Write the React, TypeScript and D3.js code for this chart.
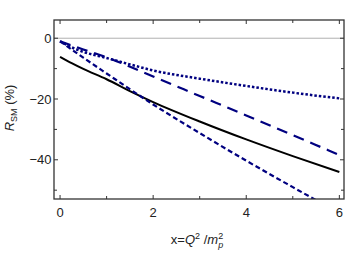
import React, { useRef, useEffect } from "react";
import * as d3 from "d3";

// values
const solidX = [0, 0.25, 0.5, 1, 1.5, 2, 3, 4, 5, 6];
const solidY = [-6.1, -8.2, -10.1, -13.5, -17.4, -21.0, -27.4, -33.3, -38.8, -44.0];

const longDashX = [0, 0.5, 1, 2, 3, 4, 5, 6];
const longDashY = [-1.0, -3.7, -6.3, -12.6, -19.0, -25.4, -31.9, -38.4];

const dottedX = [0, 0.25, 0.5, 1, 1.5, 2, 3, 4, 5, 6];
const dottedY = [-1.0, -3.0, -4.5, -6.5, -8.6, -10.6, -13.3, -15.7, -17.9, -19.8];

const shortDashX = [0, 0.5, 1, 2, 3, 4, 5, 5.7];
const shortDashY = [-1.0, -6.4, -11.6, -21.8, -31.2, -40.3, -49.0, -55.0];

const xMajorTicks = [0, 2, 4, 6];
const xMinorTicks = [1, 3, 5];
const yMajorTicks = [0, -20, -40];
const yMinorTicks = [-10, -30, -50];

const W = 349;
const H = 253;

const App: React.FC = () => {
  const svgRef = useRef<SVGSVGElement | null>(null);

  useEffect(() => {
    const svg = d3.select(svgRef.current);
    svg.selectAll("*").remove();

    const left = 54, right = 344, top = 20, bottom = 199;
    const x = d3.scaleLinear().domain([-0.13, 6.1]).range([left, right]);
    const y = d3.scaleLinear().domain([6, -52.9]).range([top, bottom]);
    const font = "'Liberation Sans', Arial, sans-serif";
    const frameColor = "#333";

    svg
      .append("defs")
      .append("clipPath")
      .attr("id", "plotClip")
      .append("rect")
      .attr("x", left)
      .attr("y", top)
      .attr("width", right - left)
      .attr("height", bottom - top);

    // zero line
    svg
      .append("line")
      .attr("x1", left)
      .attr("x2", right)
      .attr("y1", y(0))
      .attr("y2", y(0))
      .attr("stroke", "#b0b0b0")
      .attr("stroke-width", 1);

    const plot = svg.append("g").attr("clip-path", "url(#plotClip)");

    const series = [
      { xs: solidX, ys: solidY, color: "#000", dash: null, w: 2 },
      { xs: longDashX, ys: longDashY, color: "#000080", dash: "11,7", w: 2.2 },
      { xs: dottedX, ys: dottedY, color: "#000080", dash: "2.5,2", w: 2.5 },
      { xs: shortDashX, ys: shortDashY, color: "#000080", dash: "5,3", w: 2.2 },
    ];

    const line = d3
      .line<[number, number]>()
      .x((d) => x(d[0]))
      .y((d) => y(d[1]))
      .curve(d3.curveMonotoneX);

    series.forEach((s) => {
      const pts = s.xs.map((v, i) => [v, s.ys[i]] as [number, number]);
      plot
        .append("path")
        .datum(pts)
        .attr("fill", "none")
        .attr("stroke", s.color)
        .attr("stroke-width", s.w)
        .attr("stroke-dasharray", s.dash)
        .attr("d", line);
    });

    // frame
    svg
      .append("rect")
      .attr("x", left)
      .attr("y", top)
      .attr("width", right - left)
      .attr("height", bottom - top)
      .attr("fill", "none")
      .attr("stroke", frameColor)
      .attr("stroke-width", 1.3);

    // ticks, pointing inward on all four sides
    const ticks = svg.append("g").attr("stroke", frameColor).attr("stroke-width", 1);
    const xTick = (v: number, len: number) => {
      ticks.append("line").attr("x1", x(v)).attr("x2", x(v)).attr("y1", bottom).attr("y2", bottom - len);
      ticks.append("line").attr("x1", x(v)).attr("x2", x(v)).attr("y1", top).attr("y2", top + len);
    };
    const yTick = (v: number, len: number) => {
      ticks.append("line").attr("x1", left).attr("x2", left + len).attr("y1", y(v)).attr("y2", y(v));
      ticks.append("line").attr("x1", right).attr("x2", right - len).attr("y1", y(v)).attr("y2", y(v));
    };
    xMajorTicks.forEach((v) => xTick(v, 4));
    xMinorTicks.forEach((v) => xTick(v, 3));
    yMajorTicks.forEach((v) => yTick(v, 4));
    yMinorTicks.forEach((v) => yTick(v, 3));

    // tick labels
    svg
      .selectAll(".xl")
      .data(xMajorTicks)
      .enter()
      .append("text")
      .attr("x", (d) => x(d))
      .attr("y", 217)
      .attr("text-anchor", "middle")
      .style("font-family", font)
      .style("font-size", "13px")
      .attr("fill", "#222")
      .text((d) => String(d));

    svg
      .selectAll(".yl")
      .data(yMajorTicks)
      .enter()
      .append("text")
      .attr("x", 51.5)
      .attr("y", (d) => y(d) + 4.7)
      .attr("text-anchor", "end")
      .style("font-family", font)
      .style("font-size", "13px")
      .attr("fill", "#222")
      .text((d) => (d < 0 ? "\u2212" + Math.abs(d) : String(d)));

    // x axis title: x=Q^2/m_p^2
    const xt = svg
      .append("text")
      .attr("x", 197)
      .attr("y", 244)
      .attr("text-anchor", "middle")
      .style("font-family", font)
      .style("font-size", "13px")
      .attr("fill", "#222");
    xt.append("tspan").text("x=");
    xt.append("tspan").style("font-style", "italic").text("Q");
    xt.append("tspan").attr("dy", -5).style("font-size", "9px").text("2");
    xt.append("tspan").attr("dy", 5).text(" /");
    xt.append("tspan").style("font-style", "italic").text("m");
    xt.append("tspan").attr("dy", -5).style("font-size", "9px").text("2");
    xt.append("tspan").attr("dx", -5).attr("dy", 9).style("font-size", "9px").style("font-style", "italic").text("p");

    // y axis title: R_SM (%)
    const yt = svg
      .append("text")
      .attr("transform", "translate(14,108) rotate(-90)")
      .attr("text-anchor", "middle")
      .style("font-family", font)
      .style("font-size", "13px")
      .attr("fill", "#222");
    yt.append("tspan").style("font-style", "italic").text("R");
    yt.append("tspan").attr("dy", 3).style("font-size", "9px").text("SM");
    yt.append("tspan").attr("dy", -3).text(" (%)");
  }, []);

  return (
    <div style={{ position: "relative", width: W, height: H }}>
      <svg
        ref={svgRef}
        width={W}
        height={H}
        style={{ position: "fixed", left: 0, top: 0, background: "#fff" }}
      ></svg>
    </div>
  );
};

export default App;
